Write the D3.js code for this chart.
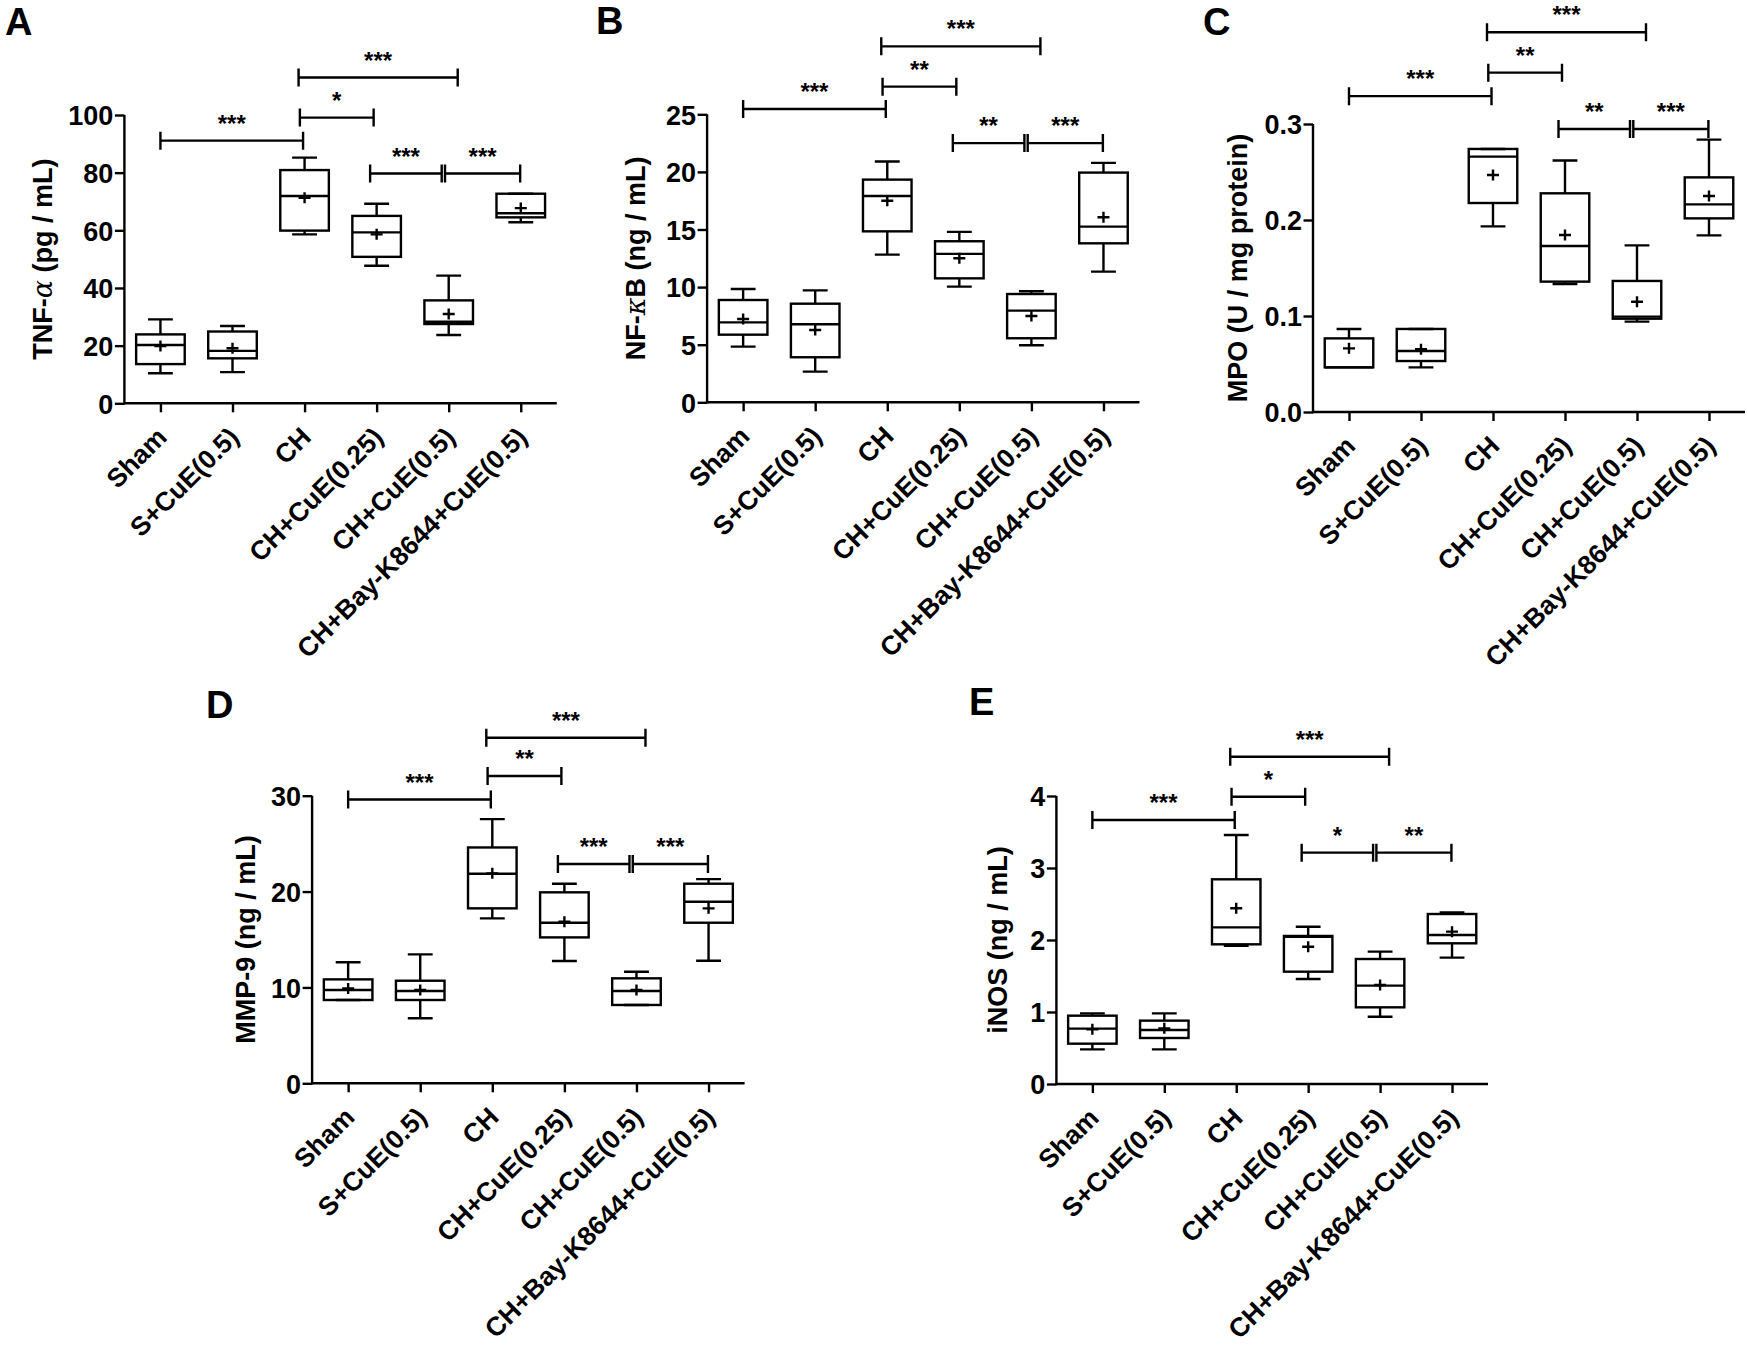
<!DOCTYPE html>
<html>
<head>
<meta charset="utf-8">
<script src="https://cdn.jsdelivr.net/npm/d3@7"></script>
<style>
  body { margin: 0; background: #fff; }
  text { font-family: "Liberation Sans", Arial, sans-serif; font-weight: bold; fill: #000; }
</style>
</head>
<body>
<div id="main"></div>
<script>
const groups = ['Sham', 'S+CuE(0.5)', 'CH', 'CH+CuE(0.25)', 'CH+CuE(0.5)', 'CH+Bay-K8644+CuE(0.5)'];

// per group: [low whisker, q1, median, q3, high whisker, mean]
const tnfStats = [
  [10.4, 13.6, 20.2, 23.9, 29.1, 19.9],
  [10.8, 15.6, 18.2, 24.9, 26.8, 19.1],
  [58.6, 59.9, 71.9, 80.9, 85.2, 71.3],
  [47.7, 50.8, 59.3, 65.0, 69.2, 58.6],
  [23.7, 27.5, 28.3, 35.7, 44.3, 31.0],
  [62.8, 64.5, 65.9, 72.7, 72.7, 67.7]
];
const nfkbStats = [
  [4.83, 5.87, 6.94, 8.88, 9.84, 7.23],
  [2.66, 3.91, 6.77, 8.56, 9.72, 6.28],
  [12.82, 14.84, 17.91, 19.33, 20.9, 17.5],
  [10.04, 10.76, 12.88, 13.98, 14.79, 12.5],
  [4.95, 5.56, 7.96, 9.4, 9.64, 7.49],
  [11.34, 13.8, 15.25, 19.94, 20.78, 16.06]
];
const mpoStats = [
  [0.0465, 0.0465, 0.0465, 0.0767, 0.0865, 0.0663],
  [0.0465, 0.0531, 0.0635, 0.0865, 0.0865, 0.0653],
  [0.1934, 0.2177, 0.266, 0.274, 0.274, 0.2469],
  [0.1333, 0.1358, 0.1729, 0.2278, 0.262, 0.1844],
  [0.0941, 0.0972, 0.0993, 0.1365, 0.1736, 0.1149],
  [0.184, 0.2017, 0.2163, 0.2444, 0.2837, 0.225]
];
const mmpStats = [
  [8.69, 8.69, 9.73, 10.84, 12.62, 9.9],
  [6.78, 8.69, 9.63, 10.7, 13.45, 9.73],
  [17.2, 18.25, 21.86, 24.6, 27.56, 21.9],
  [12.76, 15.22, 16.75, 19.92, 20.82, 16.86],
  [8.17, 8.17, 9.63, 10.95, 11.64, 9.73],
  [12.79, 16.75, 18.94, 20.82, 21.3, 18.25]
];
const inosStats = [
  [0.481, 0.56, 0.769, 0.949, 0.981, 0.759],
  [0.481, 0.639, 0.75, 0.88, 0.981, 0.773],
  [1.921, 1.94, 2.176, 2.843, 3.458, 2.44],
  [1.458, 1.56, 2.046, 2.056, 2.185, 1.907],
  [0.935, 1.065, 1.366, 1.736, 1.838, 1.375],
  [1.755, 1.954, 2.069, 2.361, 2.384, 2.116]
];

const tnfTicks  = [0, 20, 40, 60, 80, 100];
const nfkbTicks = [0, 5, 10, 15, 20, 25];
const mpoTicks  = [0, 0.1, 0.2, 0.3];
const mmpTicks  = [0, 10, 20, 30];
const inosTicks = [0, 1, 2, 3, 4];

// comparisons: [group a, group b, bracket level (axis units), stars]
const tnfSig  = [[0, 2, 91.1, '***'], [2, 3, 99.1, '*'], [2, 4, 113, '***'], [3, 4, 79.7, '***'], [4, 5, 79.7, '***']];
const nfkbSig = [[0, 2, 25.46, '***'], [2, 3, 27.4, '**'], [2, 4, 30.9, '***'], [3, 4, 22.5, '**'], [4, 5, 22.5, '***']];
const mpoSig  = [[0, 2, 0.329, '***'], [2, 3, 0.3535, '**'], [2, 4, 0.3955, '***'], [3, 4, 0.2948, '**'], [4, 5, 0.2948, '***']];
const mmpSig  = [[0, 2, 29.6, '***'], [2, 3, 32.05, '**'], [2, 4, 36.04, '***'], [3, 4, 22.87, '***'], [4, 5, 22.87, '***']];
const inosSig = [[0, 2, 3.667, '***'], [2, 3, 3.99, '*'], [2, 4, 4.546, '***'], [3, 4, 3.213, '*'], [4, 5, 3.213, '**']];

document.addEventListener('DOMContentLoaded', () => {
  const W = 1748, H = 1346, lw = 2.4;

  // bracket end nudges (px), so stacked brackets don't share end ticks
  const nudge = { '0-2': [0, -1.5], '2-3': [-4.7, -3], '2-4': [-6, 9], '3-4': [-6.5, -7], '4-5': [-3.7, -0.6] };

  const panels = [
    { id: 'A', title: ['TNF-', 'α', ' (pg / mL)'], stats: tnfStats, ticks: tnfTicks, fmt: d3.format('d'), sig: tnfSig,
      x0: 124.4, x1: 556.8, y0: 403.3, y1: 115, lx: 5, ly: 35, tx: 51.5 },
    { id: 'B', title: ['NF-', 'κ', 'B (ng / mL)'], stats: nfkbStats, ticks: nfkbTicks, fmt: d3.format('d'), sig: nfkbSig,
      x0: 707.1, x1: 1139.5, y0: 402.3, y1: 114.3, lx: 596, ly: 34, tx: 645 },
    { id: 'C', title: ['MPO (U / mg protein)'], stats: mpoStats, ticks: mpoTicks, fmt: d3.format('.1f'), sig: mpoSig,
      x0: 1313, x1: 1745, y0: 412, y1: 124, lx: 1203, ly: 35, tx: 1246.5 },
    { id: 'D', title: ['MMP-9 (ng / mL)'], stats: mmpStats, ticks: mmpTicks, fmt: d3.format('d'), sig: mmpSig,
      x0: 312.1, x1: 744.6, y0: 1083.3, y1: 795.7, lx: 206, ly: 718, tx: 254.5 },
    { id: 'E', title: ['iNOS (ng / mL)'], stats: inosStats, ticks: inosTicks, fmt: d3.format('d'), sig: inosSig,
      x0: 1056.4, x1: 1488, y0: 1084, y1: 796, lx: 969, ly: 715, tx: 1006.5 }
  ];

  const svg = d3.select('#main').append('svg')
    .attr('width', W).attr('height', H).attr('viewBox', [0, 0, W, H]);
  svg.append('rect').attr('width', W).attr('height', H).attr('fill', '#fff');

  panels.forEach(p => {
    const g = svg.append('g');
    const sx = d3.scalePoint().domain(groups).range([p.x0, p.x1]).padding(0.5);
    const sy = d3.scaleLinear().domain([0, d3.max(p.ticks)]).range([p.y0, p.y1]);
    const step = sx.step(), bw = step * 0.674, cw = step * 0.345;

    // panel letter
    g.append('text').attr('x', p.lx).attr('y', p.ly)
      .attr('font-size', 38).text(p.id);

    // y title
    const t = g.append('text')
      .attr('transform', `translate(${p.tx},${(p.y0 + p.y1) / 2}) rotate(-90)`)
      .attr('text-anchor', 'middle').attr('font-size', 27);
    p.title.forEach((s, i) => {
      const ts = t.append('tspan').text(s);
      if (i === 1) ts.attr('font-style', 'italic').attr('font-weight', 'normal')
        .attr('font-family', '"DejaVu Serif", serif');
    });

    // axes
    const ay = g.append('g').attr('transform', `translate(${p.x0},0)`)
      .call(d3.axisLeft(sy).tickValues(p.ticks).tickFormat(p.fmt).tickSize(9.5).tickSizeOuter(0).tickPadding(1.5));
    const ax = g.append('g').attr('transform', `translate(0,${p.y0})`)
      .call(d3.axisBottom(sx).tickSize(9).tickSizeOuter(0).tickFormat(''));
    [ay, ax].forEach(a => {
      a.attr('font-family', null).attr('font-size', null);
      a.selectAll('path, line').attr('stroke', '#000').attr('stroke-width', lw);
    });
    ay.select('.domain').attr('d', `M0,${p.y0 + lw / 2}V${p.y1}`);
    ax.select('.domain').attr('d', `M${p.x0},0H${p.x1}`);
    ay.selectAll('text').attr('font-size', 27).attr('fill', '#000').attr('dy', '0.36em');

    // rotated category labels, ending just right of each tick
    g.append('g').selectAll('text').data(groups).join('text')
      .attr('transform', d => `translate(${sx(d) + 8},${p.y0 + 35.5}) rotate(-45)`)
      .attr('text-anchor', 'end').attr('font-size', 26.5).text(d => d);

    // box plots
    const box = g.append('g').attr('fill', 'none').attr('stroke', '#000').attr('stroke-width', lw);
    p.stats.forEach((s, i) => {
      const [lo, q1, md, q3, hi, mn] = s;
      const cx = sx(groups[i]);
      const path = d3.path();
      path.moveTo(cx, sy(hi)); path.lineTo(cx, sy(q3));
      path.moveTo(cx, sy(q1)); path.lineTo(cx, sy(lo));
      path.moveTo(cx - cw / 2, sy(hi)); path.lineTo(cx + cw / 2, sy(hi));
      path.moveTo(cx - cw / 2, sy(lo)); path.lineTo(cx + cw / 2, sy(lo));
      path.moveTo(cx - bw / 2, sy(md)); path.lineTo(cx + bw / 2, sy(md));
      box.append('path').attr('d', path.toString());
      box.append('rect').attr('x', cx - bw / 2).attr('y', sy(q3))
        .attr('width', bw).attr('height', sy(q1) - sy(q3));
      box.append('path')
        .attr('d', `M${cx - 6},${sy(mn)}H${cx + 6}M${cx},${sy(mn) - 5.5}V${sy(mn) + 5.5}`);
    });

    // significance brackets
    const br = g.append('g');
    p.sig.forEach(([a, b, lev, stars]) => {
      const [n1, n2] = nudge[`${a}-${b}`];
      const x1 = sx(groups[a]) + n1, x2 = sx(groups[b]) + n2, y = sy(lev);
      br.append('path').attr('fill', 'none').attr('stroke', '#000').attr('stroke-width', lw)
        .attr('d', `M${x1},${y}H${x2}M${x1},${y - 9}V${y + 9}M${x2},${y - 9}V${y + 9}`);
      br.append('text').attr('x', (x1 + x2) / 2).attr('y', y - 9)
        .attr('text-anchor', 'middle').attr('font-size', 24).text(stars);
    });
  });
});
</script>
</body>
</html>
